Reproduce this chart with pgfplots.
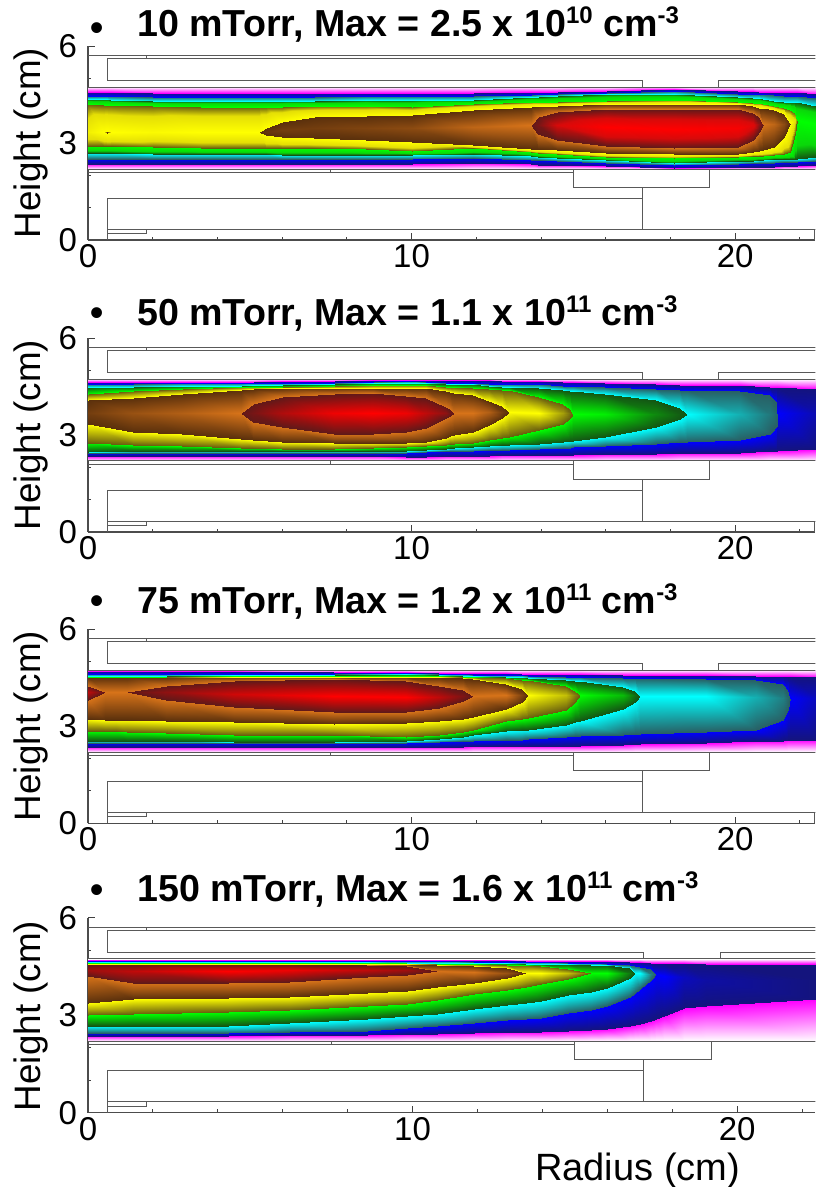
\documentclass[border=0pt]{standalone}
\usepackage{pgfplots}
\usepackage{pgfplotstable}
\usepackage{fontspec}
\setmainfont{Liberation Sans}
\pgfplotsset{compat=1.18}

% x p L0 L1 L2 L3 L4 L5 L6 C U6 U5 U4 U3 U2 U1 U0 : heights of the contour boundaries at each radius; p = value on the ridge
\pgfplotstableread{
x p a b c d e f g h i j k l m n o
0 8.7 2.20 2.37 2.52 2.70 2.92 3.35 3.35 3.35 3.35 3.35 4.23 4.38 4.47 4.58 4.73
0.5 9 2.20 2.37 2.52 2.70 2.91 3.35 3.35 3.35 3.35 3.35 4.20 4.36 4.47 4.58 4.73
0.6 10 2.20 2.37 2.52 2.70 2.91 3.31 3.35 3.35 3.35 3.39 4.20 4.36 4.47 4.58 4.73
0.7 9 2.20 2.37 2.52 2.70 2.91 3.35 3.35 3.35 3.35 3.35 4.19 4.35 4.47 4.58 4.73
2 8.9 2.20 2.37 2.51 2.68 2.88 3.35 3.35 3.35 3.35 3.35 4.14 4.30 4.44 4.57 4.73
3.5 9 2.20 2.37 2.50 2.66 2.86 3.35 3.35 3.35 3.35 3.35 4.11 4.30 4.42 4.56 4.73
5 9 2.20 2.37 2.50 2.66 2.85 3.35 3.35 3.35 3.35 3.35 4.12 4.30 4.42 4.56 4.73
5.3 10 2.20 2.37 2.50 2.66 2.85 3.35 3.35 3.35 3.35 3.35 4.12 4.30 4.42 4.56 4.73
5.5 10.1 2.20 2.37 2.50 2.66 2.85 3.25 3.35 3.35 3.35 3.48 4.12 4.30 4.42 4.56 4.73
6 10.2 2.20 2.37 2.50 2.65 2.85 3.18 3.42 3.42 3.42 3.66 4.13 4.31 4.42 4.56 4.73
7 10.2 2.20 2.37 2.50 2.65 2.84 3.15 3.48 3.48 3.48 3.80 4.14 4.32 4.44 4.56 4.73
8.6 10.3 2.20 2.36 2.50 2.64 2.82 3.10 3.47 3.47 3.47 3.84 4.15 4.33 4.46 4.57 4.73
10 10.4 2.20 2.36 2.50 2.62 2.76 3.05 3.47 3.47 3.47 3.87 4.13 4.35 4.46 4.57 4.73
11.9 10.8 2.20 2.39 2.53 2.66 2.84 2.94 3.50 3.50 3.50 4.02 4.23 4.35 4.46 4.56 4.73
13.7 12 2.20 2.35 2.49 2.60 2.72 2.83 3.56 3.56 3.56 4.13 4.28 4.42 4.51 4.58 4.73
13.9 12.1 2.20 2.34 2.48 2.58 2.70 2.82 3.30 3.56 3.80 4.14 4.28 4.43 4.52 4.58 4.73
14.5 12.5 2.20 2.33 2.45 2.54 2.66 2.78 3.10 3.55 3.97 4.17 4.29 4.45 4.53 4.59 4.73
16 13 2.20 2.30 2.39 2.48 2.58 2.70 2.92 3.50 4.05 4.23 4.30 4.52 4.57 4.62 4.73
18.1 13 2.20 2.22 2.34 2.40 2.53 2.66 2.84 3.45 4.07 4.23 4.33 4.52 4.62 4.69 4.73
20.1 12.9 2.20 2.25 2.37 2.45 2.58 2.66 2.89 3.47 4.05 4.21 4.28 4.44 4.54 4.62 4.73
20.55 12.6 2.20 2.26 2.38 2.46 2.60 2.72 3.10 3.55 3.95 4.15 4.26 4.41 4.53 4.61 4.73
20.75 12.2 2.20 2.26 2.38 2.47 2.61 2.76 3.35 3.59 3.80 4.10 4.24 4.39 4.52 4.60 4.73
20.86 12 2.20 2.26 2.38 2.47 2.61 2.79 3.59 3.59 3.59 4.08 4.23 4.38 4.52 4.60 4.73
21.2 10.8 2.20 2.27 2.40 2.50 2.63 2.89 3.60 3.60 3.60 4.02 4.15 4.31 4.49 4.59 4.73
21.5 10.4 2.20 2.28 2.41 2.50 2.68 3.20 3.60 3.60 3.60 3.90 4.08 4.29 4.48 4.58 4.73
21.7 10 2.20 2.28 2.42 2.50 2.73 3.62 3.62 3.62 3.62 3.62 4.02 4.28 4.47 4.58 4.73
21.85 8.4 2.20 2.28 2.42 2.50 3.30 3.72 3.72 3.72 3.72 3.72 3.95 4.28 4.47 4.58 4.73
21.9 8 2.20 2.28 2.42 2.50 3.72 3.72 3.72 3.72 3.72 3.72 3.72 4.28 4.47 4.58 4.73
22.5 7 2.20 2.32 2.46 2.56 3.60 3.60 3.60 3.60 3.60 3.60 3.60 4.15 4.39 4.54 4.73
}\tA

\pgfplotstableread{
x p a b c d e f g h i j k l m n o
0 10.2 2.20 2.36 2.44 2.49 2.75 3.34 3.70 3.70 3.70 4.09 4.29 4.48 4.58 4.65 4.73
1.4 10.5 2.20 2.36 2.44 2.50 2.68 3.11 3.70 3.70 3.70 4.14 4.36 4.50 4.59 4.65 4.73
2.9 10.7 2.20 2.36 2.44 2.50 2.66 3.03 3.70 3.70 3.70 4.29 4.44 4.52 4.60 4.66 4.73
4.74 12 2.20 2.36 2.44 2.50 2.60 2.88 3.69 3.69 3.69 4.41 4.49 4.53 4.60 4.66 4.73
5.1 12.15 2.20 2.36 2.44 2.50 2.59 2.85 3.42 3.69 3.98 4.43 4.49 4.54 4.60 4.66 4.73
6 12.5 2.20 2.36 2.44 2.50 2.58 2.80 3.24 3.70 4.17 4.45 4.50 4.55 4.61 4.67 4.73
7.6 12.9 2.20 2.35 2.44 2.50 2.56 2.76 3.05 3.70 4.27 4.46 4.52 4.58 4.63 4.69 4.73
8.8 13 2.20 2.34 2.44 2.50 2.60 2.75 3.05 3.70 4.31 4.47 4.55 4.60 4.65 4.70 4.73
9.83 12.9 2.20 2.33 2.44 2.52 2.64 2.75 3.10 3.70 4.22 4.47 4.55 4.62 4.67 4.71 4.73
10.45 12.6 2.20 2.33 2.47 2.55 2.65 2.80 3.21 3.70 4.14 4.46 4.54 4.60 4.65 4.71 4.73
11.07 12.3 2.20 2.34 2.50 2.58 2.70 2.92 3.52 3.70 3.88 4.38 4.50 4.59 4.62 4.70 4.73
11.2 12.1 2.20 2.34 2.50 2.59 2.72 2.96 3.60 3.70 3.80 4.35 4.50 4.58 4.62 4.70 4.73
11.3 12 2.20 2.34 2.50 2.60 2.73 3.00 3.69 3.69 3.69 4.32 4.49 4.58 4.61 4.70 4.73
11.9 11.3 2.20 2.35 2.51 2.62 2.77 3.11 3.70 3.70 3.70 4.24 4.47 4.57 4.60 4.70 4.73
12.4 10.7 2.20 2.36 2.53 2.66 2.84 3.32 3.72 3.72 3.72 4.07 4.44 4.53 4.59 4.70 4.73
12.8 10.2 2.20 2.37 2.54 2.69 2.92 3.52 3.72 3.72 3.72 3.90 4.41 4.50 4.58 4.69 4.73
13 10 2.20 2.37 2.55 2.70 2.95 3.72 3.72 3.72 3.72 3.72 4.40 4.48 4.58 4.69 4.73
13.95 9 2.20 2.38 2.56 2.72 3.16 3.70 3.70 3.70 3.70 3.70 4.19 4.45 4.57 4.68 4.73
14.68 8.4 2.20 2.39 2.60 2.80 3.36 3.68 3.68 3.68 3.68 3.68 3.98 4.39 4.53 4.65 4.73
14.9 8.1 2.20 2.40 2.61 2.82 3.52 3.68 3.68 3.68 3.68 3.68 3.82 4.37 4.52 4.64 4.73
15 8 2.20 2.40 2.62 2.83 3.67 3.67 3.67 3.67 3.67 3.67 3.67 4.36 4.52 4.64 4.73
15.98 6.9 2.20 2.41 2.65 2.95 3.67 3.67 3.67 3.67 3.67 3.67 3.67 4.29 4.49 4.62 4.73
17.56 6.3 2.20 2.43 2.74 3.25 3.67 3.67 3.67 3.67 3.67 3.67 3.67 4.08 4.42 4.57 4.73
18.3 6.05 2.20 2.44 2.79 3.50 3.67 3.67 3.67 3.67 3.67 3.67 3.67 3.85 4.40 4.56 4.73
18.5 6 2.20 2.44 2.80 3.67 3.67 3.67 3.67 3.67 3.67 3.67 3.67 3.67 4.40 4.56 4.73
20.14 4.5 2.20 2.46 2.85 3.67 3.67 3.67 3.67 3.67 3.67 3.67 3.67 3.67 4.37 4.55 4.73
21.07 4.15 2.20 2.50 3.05 3.67 3.67 3.67 3.67 3.67 3.67 3.67 3.67 3.67 4.24 4.50 4.73
21.28 4.05 2.20 2.52 3.28 3.68 3.68 3.68 3.68 3.68 3.68 3.68 3.68 3.68 4.02 4.48 4.73
21.3 4 2.20 2.52 3.68 3.68 3.68 3.68 3.68 3.68 3.68 3.68 3.68 3.68 3.68 4.48 4.73
22.5 2.4 2.20 2.56 3.68 3.68 3.68 3.68 3.68 3.68 3.68 3.68 3.68 3.68 3.68 4.44 4.73
}\tB

\pgfplotstableread{
x p a b c d e f g h i j k l m n o
0 12.6 2.20 2.35 2.48 2.55 2.84 3.22 3.82 4.05 4.25 4.51 4.53 4.56 4.61 4.71 4.74
0.52 12 2.20 2.35 2.48 2.55 2.84 3.20 4.05 4.05 4.05 4.51 4.53 4.56 4.61 4.71 4.74
0.85 11.5 2.20 2.35 2.48 2.55 2.84 3.20 4.05 4.05 4.05 4.51 4.53 4.56 4.61 4.71 4.74
1.2 12 2.20 2.35 2.48 2.55 2.82 3.20 4.05 4.05 4.05 4.51 4.53 4.56 4.61 4.71 4.74
2.4 12.3 2.20 2.35 2.48 2.53 2.78 3.17 3.82 4.05 4.25 4.52 4.54 4.57 4.61 4.71 4.74
4.5 12.7 2.20 2.35 2.48 2.52 2.73 3.12 3.61 4.00 4.41 4.53 4.55 4.58 4.62 4.70 4.74
7.6 13 2.20 2.35 2.48 2.52 2.73 3.08 3.43 3.95 4.46 4.54 4.56 4.60 4.63 4.69 4.74
9.83 13 2.20 2.35 2.48 2.55 2.68 3.10 3.43 3.92 4.41 4.54 4.56 4.61 4.64 4.67 4.74
10.86 12.6 2.20 2.36 2.50 2.60 2.74 3.15 3.56 3.92 4.25 4.52 4.55 4.60 4.63 4.66 4.74
11.58 12.2 2.20 2.37 2.53 2.66 2.82 3.22 3.77 3.94 4.13 4.50 4.54 4.57 4.61 4.65 4.74
11.9 12 2.20 2.38 2.55 2.72 2.88 3.30 3.94 3.94 3.94 4.47 4.53 4.56 4.60 4.65 4.74
12.92 11 2.20 2.39 2.58 2.84 3.15 3.55 3.96 3.96 3.96 4.32 4.49 4.54 4.59 4.64 4.74
13.4 10.3 2.20 2.39 2.59 2.88 3.22 3.76 3.96 3.96 3.96 4.15 4.44 4.51 4.58 4.63 4.74
13.6 10 2.20 2.39 2.60 2.90 3.25 3.97 3.97 3.97 3.97 3.97 4.42 4.50 4.57 4.63 4.74
14.78 8.6 2.20 2.40 2.67 3.05 3.50 3.97 3.97 3.97 3.97 3.97 4.24 4.44 4.54 4.62 4.74
15.05 8.2 2.20 2.40 2.69 3.12 3.75 3.97 3.97 3.97 3.97 3.97 4.08 4.41 4.53 4.62 4.74
15.2 8 2.20 2.40 2.70 3.15 3.97 3.97 3.97 3.97 3.97 3.97 3.97 4.40 4.52 4.62 4.74
16.53 6.6 2.20 2.43 2.74 3.55 3.96 3.96 3.96 3.96 3.96 3.96 3.96 4.22 4.49 4.60 4.74
16.9 6.15 2.20 2.44 2.76 3.76 3.96 3.96 3.96 3.96 3.96 3.96 3.96 4.10 4.48 4.60 4.74
17.05 6 2.20 2.45 2.77 3.95 3.95 3.95 3.95 3.95 3.95 3.95 3.95 3.95 4.48 4.60 4.74
19.1 5 2.20 2.48 2.81 3.93 3.93 3.93 3.93 3.93 3.93 3.93 3.93 3.93 4.47 4.59 4.74
20.65 4.5 2.20 2.53 2.89 3.90 3.90 3.90 3.90 3.90 3.90 3.90 3.90 3.90 4.44 4.56 4.74
21.48 4.2 2.20 2.56 3.20 3.88 3.88 3.88 3.88 3.88 3.88 3.88 3.88 3.88 4.30 4.55 4.74
21.65 4.05 2.20 2.57 3.55 3.88 3.88 3.88 3.88 3.88 3.88 3.88 3.88 3.88 4.12 4.55 4.74
21.7 4 2.20 2.57 3.87 3.87 3.87 3.87 3.87 3.87 3.87 3.87 3.87 3.87 3.87 4.55 4.74
22.5 2.5 2.20 2.58 3.87 3.87 3.87 3.87 3.87 3.87 3.87 3.87 3.87 3.87 3.87 4.54 4.74
}\tC

\pgfplotstableread{
x p a b c d e f g h i j k l m n o
0 12.4 2.23 2.40 2.49 2.69 3.03 3.40 4.24 4.42 4.60 4.62 4.64 4.67 4.70 4.73 4.76
1.4 12.6 2.23 2.40 2.49 2.69 3.07 3.52 4.02 4.40 4.60 4.62 4.64 4.67 4.70 4.73 4.76
4.3 13 2.23 2.40 2.49 2.69 3.13 3.55 4.01 4.40 4.60 4.62 4.64 4.67 4.70 4.73 4.76
6.2 12.9 2.23 2.41 2.50 2.78 3.18 3.60 4.06 4.42 4.60 4.62 4.64 4.67 4.70 4.73 4.76
8.6 12.6 2.23 2.42 2.55 2.90 3.30 3.72 4.22 4.42 4.58 4.61 4.64 4.66 4.70 4.73 4.76
9.83 12.4 2.23 2.44 2.64 3.00 3.36 3.78 4.26 4.42 4.55 4.60 4.63 4.65 4.69 4.73 4.76
10.75 12 2.23 2.46 2.70 3.08 3.50 3.90 4.39 4.39 4.39 4.58 4.62 4.65 4.69 4.73 4.76
11.9 11 2.23 2.49 2.80 3.21 3.67 4.03 4.36 4.36 4.36 4.55 4.61 4.64 4.68 4.72 4.76
12.9 10.5 2.23 2.50 2.88 3.34 3.82 4.18 4.34 4.34 4.34 4.48 4.58 4.63 4.68 4.72 4.76
13.5 10 2.23 2.51 2.92 3.42 3.90 4.32 4.32 4.32 4.32 4.32 4.56 4.62 4.67 4.71 4.76
13.95 9.5 2.23 2.51 2.95 3.47 3.98 4.32 4.32 4.32 4.32 4.32 4.55 4.62 4.67 4.71 4.76
14.8 8.6 2.23 2.54 3.10 3.65 4.14 4.32 4.32 4.32 4.32 4.32 4.44 4.60 4.65 4.70 4.76
15.5 8 2.23 2.57 3.20 3.75 4.32 4.32 4.32 4.32 4.32 4.32 4.32 4.58 4.63 4.70 4.76
16 7.2 2.23 2.61 3.31 3.88 4.32 4.32 4.32 4.32 4.32 4.32 4.32 4.57 4.62 4.69 4.76
16.7 6.2 2.23 2.70 3.60 4.19 4.33 4.33 4.33 4.33 4.33 4.33 4.33 4.47 4.56 4.67 4.76
16.85 6 2.23 2.72 3.70 4.34 4.34 4.34 4.34 4.34 4.34 4.34 4.34 4.34 4.54 4.67 4.76
17 5 2.23 2.75 3.83 4.34 4.34 4.34 4.34 4.34 4.34 4.34 4.34 4.34 4.52 4.66 4.76
17.36 4.2 2.23 2.86 4.10 4.31 4.31 4.31 4.31 4.31 4.31 4.31 4.31 4.31 4.45 4.65 4.76
17.5 4 2.23 2.90 4.29 4.29 4.29 4.29 4.29 4.29 4.29 4.29 4.29 4.29 4.29 4.64 4.76
17.75 3 2.23 3.00 4.25 4.25 4.25 4.25 4.25 4.25 4.25 4.25 4.25 4.25 4.25 4.64 4.76
18.35 2.5 2.23 3.26 4.20 4.20 4.20 4.20 4.20 4.20 4.20 4.20 4.20 4.20 4.20 4.63 4.76
19.05 2.3 2.23 3.31 4.10 4.10 4.10 4.10 4.10 4.10 4.10 4.10 4.10 4.10 4.10 4.62 4.76
22.5 2 2.23 3.52 4.10 4.10 4.10 4.10 4.10 4.10 4.10 4.10 4.10 4.10 4.10 4.62 4.76
}\tD

\pgfplotstableread{
x y
0 5.71
22.5 5.71
nan nan
0.59 4.93
0.59 5.62
22.5 5.62
nan nan
0.59 4.93
17.13 4.93
17.13 4.73
nan nan
19.5 4.73
19.5 4.93
22.5 4.93
nan nan
0 4.73
22.5 4.73
nan nan
1.81 5.62
1.81 5.71
nan nan
0 2.2
22.5 2.2
nan nan
0 2.09
15 2.09
nan nan
15 2.2
15 1.63
19.2 1.63
19.2 2.2
nan nan
7.5 2.09
7.5 2.2
nan nan
0.59 0
0.59 1.3
17.13 1.3
nan nan
17.13 1.63
17.13 0.33
nan nan
0.59 0.33
22.5 0.33
nan nan
22.44 0.33
22.44 0
nan nan
0.59 0.2
1.81 0.2
1.81 0.33
}\walls

\pgfplotsset{
  /pgfplots/colormap={saw}{
    rgb255=(255,255,255) rgb255=(255,0,255)
    rgb255=(20,20,125) rgb255=(0,0,255)
    rgb255=(40,95,100) rgb255=(0,255,255)
    rgb255=(20,85,20) rgb255=(0,255,0)
    rgb255=(105,95,15) rgb255=(255,255,0)
    rgb255=(90,48,12) rgb255=(215,115,25)
    rgb255=(95,25,25) rgb255=(255,0,0)
  },
  /pgfplots/colormap={sawA}{
    rgb255(0cm)=(255,255,255) rgb255(1cm)=(255,0,255)
    rgb255(2cm)=(20,20,125) rgb255(3cm)=(0,0,255)
    rgb255(4cm)=(40,95,100) rgb255(5cm)=(0,255,255)
    rgb255(6cm)=(20,85,20) rgb255(6.35cm)=(10,215,10) rgb255(7cm)=(0,255,0)
    rgb255(8cm)=(105,95,15) rgb255(8.35cm)=(228,222,5) rgb255(9cm)=(255,255,0)
    rgb255(10cm)=(90,48,12) rgb255(11cm)=(215,115,25)
    rgb255(12cm)=(95,25,25) rgb255(12.5cm)=(215,10,10) rgb255(13cm)=(255,0,0)
  }
}

% rows of the mesh: boundary column / colour index, from the lower wall to the upper wall
\newcommand\levels{a/0,b/1,b/2,c/3,c/4,d/5,d/6,e/7,e/8,f/9,f/10,g/11,g/12,h/13,i/12,i/11,j/10,j/9,k/8,k/7,l/6,l/5,m/4,m/3,n/2,n/1,o/0}

\newcommand\panel[6]{% table, y0 px, y6 px, xmax, y shift, colormap
  \pgfplotstablegetrowsof{#1}\edef\nrows{\pgfplotsretval}
  \pgfmathtruncatemacro\last{\nrows-1}
  \gdef\coords{}
  \foreach \lv/\cc in \levels {
    \foreach \j in {0,...,\last} {
      \pgfplotstablegetelem{\j}{x}\of#1\let\vx\pgfplotsretval
      \pgfplotstablegetelem{\j}{p}\of#1\let\vp\pgfplotsretval
      \pgfplotstablegetelem{\j}{\lv}\of#1\let\vy\pgfplotsretval
      \pgfmathsetmacro\vc{min(\cc,\vp)}
      \pgfmathsetmacro\vyy{\vy+#5}
      \xdef\coords{\coords (\vx,\vyy) [\vc]}
    }
  }
  \pgfmathsetmacro\hh{(#2-#3)*0.75}
  \pgfmathsetmacro\yy{(1187-#2)*0.75}
  \begin{axis}[
    at={(66pt,\yy pt)}, anchor=south west,
    scale only axis, width=545.5pt, height=\hh pt,
    xmin=0, xmax=#4, ymin=0, ymax=6,
    axis lines*=left,
    axis line style={color=black!70, line width=0.8pt},
    tick style={color=black!75, line width=0.7pt},
    tick align=inside,
    major tick length=5pt, minor tick length=2.6pt,
    xtick={0,10,20}, ytick={0,3,6},
    minor xtick={2,4,6,8,12,14,16,18,22},
    minor ytick={1,2,4,5},
    /pgf/number format/assume math mode=true,
    tick label style={font=\fontsize{24.75pt}{28pt}\selectfont, inner sep=0pt},
    xticklabel style={yshift=-3pt},
    yticklabel style={xshift=-8pt},
    colormap name=#6,
    point meta min=0, point meta max=13,
    clip=true,
  ]
    \edef\doplot{\noexpand\addplot[surf, shader=interp, forget plot, mesh/rows=27, mesh/cols=\nrows, point meta=explicit] coordinates {\coords};}
    \doplot
    \addplot[color=black!65, line width=0.75pt, mark=none, unbounded coords=jump, forget plot] table[x=x,y=y] {\walls};
  \end{axis}
}

\newcommand\ttl[5]{% baseline px, bullet px, pressure, mantissa, exponent
  \node[anchor=base, inner sep=0pt, font=\fontsize{28.2pt}{30pt}\selectfont\bfseries] at (97*0.75pt,{(1187-#2)*0.75pt}) {•};
  \node[anchor=base west, inner sep=0pt, font=\fontsize{28.2pt}{30pt}\selectfont\bfseries] at (137*0.75pt,{(1187-#1)*0.75pt})
   {#3 mTorr, Max = #4 x 10\raisebox{0.36em}{\fontsize{18pt}{18pt}\selectfont #5} cm\raisebox{0.36em}{\fontsize{18pt}{18pt}\selectfont -3}};
}
\newcommand\hgt[1]{%
  \node[anchor=base, rotate=90, inner sep=0pt, font=\fontsize{27.6pt}{30pt}\selectfont] at (40*0.75pt,{(1187-#1)*0.75pt}) {Height (cm)};
}

\begin{document}
\begin{tikzpicture}[x=1pt,y=1pt]
  \path[use as bounding box] (0,0) rectangle (612pt,890.25pt);
  \panel{\tA}{240}{46.5}{22.48}{0}{sawA}
  \panel{\tB}{532}{338.3}{22.48}{0}{saw}
  \panel{\tC}{823.3}{629.3}{22.48}{0}{saw}
  \panel{\tD}{1112.7}{917.7}{22.41}{-0.03}{saw}
  \ttl{37}{41}{10}{2.5}{10}
  \ttl{326}{326}{50}{1.1}{11}
  \ttl{614}{614}{75}{1.2}{11}
  \ttl{902}{903}{150}{1.6}{11}
  \hgt{143}
  \hgt{435}
  \hgt{726}
  \hgt{1016}
  \node[anchor=base west, inner sep=0pt, font=\fontsize{28.5pt}{30pt}\selectfont] at (535*0.75pt,{(1187-1180)*0.75pt}) {Radius (cm)};
\end{tikzpicture}
\end{document}
